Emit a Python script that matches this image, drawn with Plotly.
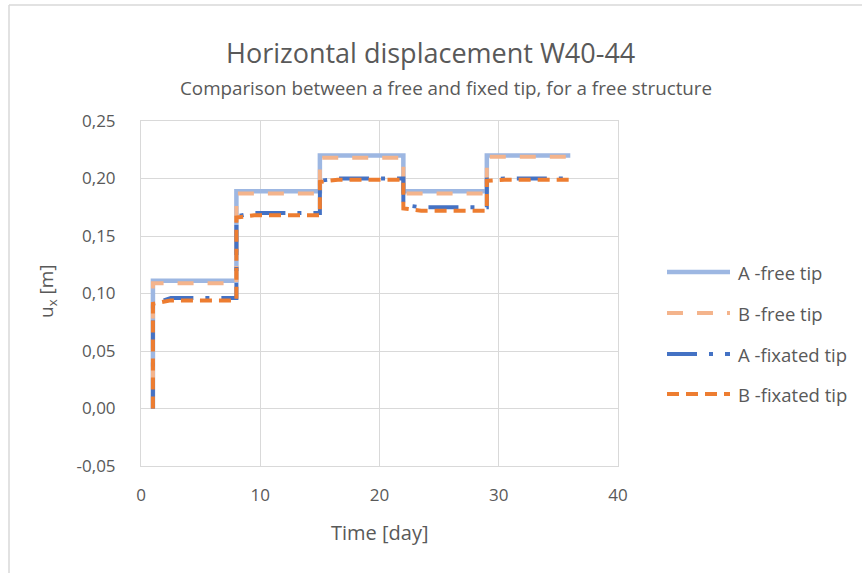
import plotly.graph_objects as go

# Horizontal displacement u_x [m] of tips A and B over time [day]
free_a_t = [1, 1, 8, 8, 15, 15, 22, 22, 29, 29, 36]
free_a_u = [0.0, 0.111, 0.111, 0.189, 0.189, 0.220, 0.220, 0.189, 0.189, 0.220, 0.220]

free_b_t = [1, 1, 8, 8, 15, 15, 22, 22, 29, 29, 36]
free_b_u = [0.0, 0.109, 0.109, 0.187, 0.187, 0.218, 0.218, 0.187, 0.187, 0.219, 0.219]

fixed_a_t = [1, 1, 2.5, 8, 8, 9.5, 15, 15, 16.5, 22, 22, 23.5, 29, 29, 30.5, 36]
fixed_a_u = [0.0, 0.091, 0.096, 0.096, 0.167, 0.170, 0.170, 0.198, 0.200, 0.200,
             0.177, 0.175, 0.175, 0.199, 0.200, 0.200]

fixed_b_t = [1, 1, 2.5, 8, 8, 9.5, 15, 15, 16.5, 22, 22, 23.5, 29, 29, 30.5, 36]
fixed_b_u = [0.0, 0.091, 0.094, 0.094, 0.166, 0.168, 0.168, 0.197, 0.199, 0.199,
             0.174, 0.172, 0.172, 0.198, 0.199, 0.199]

x_ticks = [0, 10, 20, 30, 40]
y_ticks = [-0.05, 0.0, 0.05, 0.10, 0.15, 0.20, 0.25]
y_tick_text = ["-0,05", "0,00", "0,05", "0,10", "0,15", "0,20", "0,25"]

series = [
    ("A -free tip", free_a_t, free_a_u, "#9DB7E2", 4.5, "solid"),
    ("B -free tip", free_b_t, free_b_u, "#F4B48C", 4.0, "16px,14px"),
    ("A -fixated tip", fixed_a_t, fixed_a_u, "#4472C4", 4.0, "30px,12px,4px,12px"),
    ("B -fixated tip", fixed_b_t, fixed_b_u, "#ED7D31", 4.0, "12px,7px"),
]

W, H = 862, 573
L, R, T, B = 141, 618, 121, 466   # plot area in pixels
FONT = "Open Sans"
GREY = "#595959"
GRID = "#D9D9D9"


def px(x):
    return (x - L) / (R - L)


def py(y):
    return (B - y) / (B - T)


fig = go.Figure()
for name, t, u, color, width, dash in series:
    fig.add_trace(go.Scatter(
        x=t, y=u, mode="lines", name=name, showlegend=False,
        line=dict(color=color, width=width, dash=dash),
    ))

shapes = [
    # chart frame (left and top edges)
    dict(type="line", xref="paper", yref="paper", x0=px(9), x1=px(9), y0=py(5), y1=py(H + 5),
         line=dict(color=GRID, width=1.5)),
    dict(type="line", xref="paper", yref="paper", x0=px(9), x1=px(W + 5), y0=py(5), y1=py(5),
         line=dict(color=GRID, width=1.5)),
]
annotations = [
    dict(text="Horizontal displacement W40-44", x=px(430), y=py(52), xref="paper", yref="paper",
         showarrow=False, font=dict(family=FONT, size=27, color=GREY), xanchor="center", yanchor="middle"),
    dict(text="Comparison between a free and fixed tip, for a free structure", x=px(446), y=py(88),
         xref="paper", yref="paper", showarrow=False, font=dict(family=FONT, size=18.8, color=GREY),
         xanchor="center", yanchor="middle"),
    dict(text="Time [day]", x=px(379), y=py(532), xref="paper", yref="paper", showarrow=False,
         font=dict(family=FONT, size=20, color=GREY), xanchor="center", yanchor="middle"),
    dict(text="u<sub>x</sub> [m]", x=px(47), y=py(291), xref="paper", yref="paper", showarrow=False,
         textangle=-90, font=dict(family=FONT, size=19, color=GREY), xanchor="center", yanchor="middle"),
]

# legend: sample line + label per series
leg_y = [272, 313, 354, 394]
for (name, t, u, color, width, dash), yy in zip(series, leg_y):
    shapes.append(dict(type="line", xref="paper", yref="paper", x0=px(667), x1=px(730),
                       y0=py(yy), y1=py(yy), line=dict(color=color, width=width, dash=dash)))
    annotations.append(dict(text=name, x=px(736), y=py(yy), xref="paper", yref="paper",
                            showarrow=False, xanchor="left", yanchor="middle",
                            font=dict(family=FONT, size=18.5, color=GREY)))

fig.update_layout(
    width=W, height=H,
    margin=dict(l=L, r=W - R, t=T, b=H - B, pad=0),
    paper_bgcolor="white", plot_bgcolor="white",
    font=dict(family=FONT, color=GREY),
    xaxis=dict(range=[0, 40], tickvals=x_ticks, showgrid=True, gridcolor=GRID, gridwidth=1,
               zeroline=False, showline=True, linecolor=GRID, mirror=True, ticks="",
               tickfont=dict(family=FONT, size=17, color=GREY), ticklabelstandoff=14),
    yaxis=dict(range=[-0.05, 0.25], tickvals=y_ticks, ticktext=y_tick_text, showgrid=True,
               gridcolor=GRID, gridwidth=1, zeroline=False, showline=True, linecolor=GRID,
               mirror=True, ticks="", tickfont=dict(family=FONT, size=17, color=GREY),
               ticklabelstandoff=21),
    shapes=shapes,
    annotations=annotations,
)

fig.write_html("out.html")
